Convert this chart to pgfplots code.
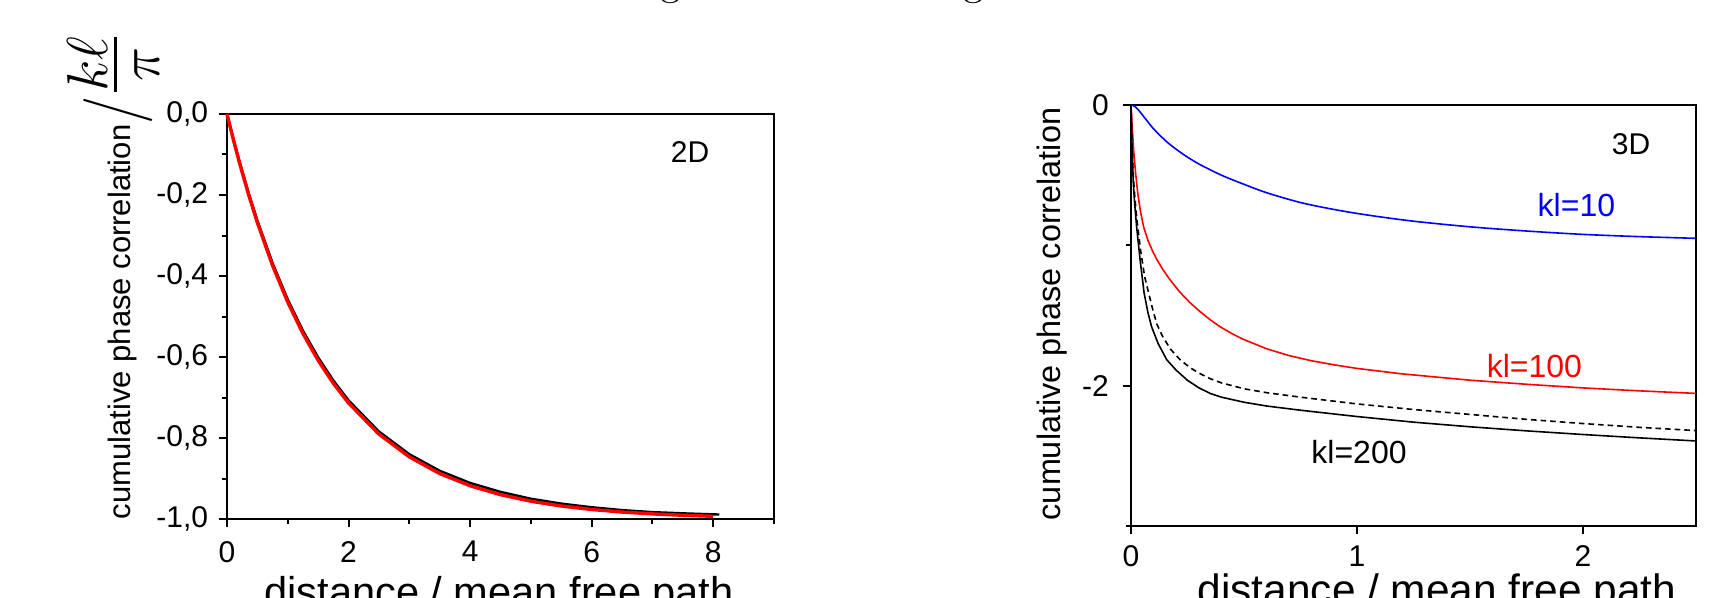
\documentclass[border=0pt]{standalone}
\usepackage{fontspec}
\setsansfont{Liberation Sans}
\renewcommand{\familydefault}{\sfdefault}
\usepackage{graphicx}
\usepackage{pgfplots}
\pgfplotsset{compat=1.18}
\definecolor{pblue}{RGB}{0,0,255}
\definecolor{pred}{RGB}{255,0,0}
\begin{document}
\begin{tikzpicture}
\pgfplotsset{
  every axis/.append style={
    scale only axis,
    tick align=outside,
    xtick pos=left, ytick pos=left,
    major tick length=2pt, minor tick length=1.25pt,
    tick style={black, line width=0.5pt},
    axis line style={line width=0.5pt},
    clip=false,
    tick label style={font=\fontsize{7.5}{8}\selectfont},
  }
}
% ---------------- 2D ----------------
\begin{axis}[
  at={(56.75pt,-129.75pt)}, anchor=south west,
  width=136.75pt, height=101.25pt,
  xmin=0, xmax=9, ymin=-1, ymax=0,
  xtick={0,2,4,6,8}, xticklabels={0,2,4,6,8},
  minor xtick={1,3,5,7,9},
  ytick={-1,-0.8,-0.6,-0.4,-0.2,0},
  yticklabels={{-1,0},{-0,8},{-0,6},{-0,4},{-0,2},{0,0}},
  minor ytick={-0.9,-0.7,-0.5,-0.3,-0.1},
  yticklabel style={xshift=0.8pt},
]
\addplot[black, line width=0.6pt] coordinates {
(0,0) (0.1,-0.058) (0.2,-0.114) (0.35,-0.192) (0.5,-0.263) (0.75,-0.368)
(1.0,-0.458) (1.25,-0.535) (1.5,-0.601) (1.75,-0.658) (2.0,-0.707)
(2.5,-0.784) (3.0,-0.840) (3.5,-0.881) (4.0,-0.911) (4.5,-0.933)
(5.0,-0.950) (5.5,-0.962) (6.0,-0.971) (6.5,-0.978) (7.0,-0.983)
(7.5,-0.986) (8.1,-0.989)};
\addplot[pred, line width=0.85pt] coordinates {
(0,0) (0.1,-0.0606) (0.2,-0.1175) (0.35,-0.1965) (0.5,-0.2684) (0.75,-0.3742)
(1.0,-0.4647) (1.25,-0.5422) (1.5,-0.6084) (1.75,-0.6650) (2.0,-0.7135)
(2.5,-0.7904) (3.0,-0.8466) (3.5,-0.8878) (4.0,-0.9179) (4.5,-0.9399)
(5.0,-0.9561) (5.5,-0.9679) (6.0,-0.9765) (6.5,-0.9828) (7.0,-0.9874)
(7.5,-0.9908) (8.0,-0.9933)};
\end{axis}
% ---------------- 3D ----------------
\begin{axis}[
  at={(282.75pt,-131.5pt)}, anchor=south west,
  width=141.25pt, height=105.25pt,
  xmin=0, xmax=2.5, ymin=-3, ymax=0,
  xtick={0,1,2}, xticklabels={0,1,2},
  ytick={-2,0}, yticklabels={-2,0},
  minor ytick={-3,-1},
  xticklabel style={yshift=0.6pt},
]
\addplot[pblue, line width=0.4pt, smooth] coordinates {
(0,0) (0.012,-0.006) (0.03,-0.03) (0.06,-0.09) (0.1,-0.17) (0.16,-0.265)
(0.23,-0.35) (0.3,-0.42) (0.4,-0.5) (0.5,-0.565) (0.6,-0.625) (0.75,-0.695)
(0.9,-0.745) (1.05,-0.785) (1.25,-0.828) (1.5,-0.868) (1.75,-0.898) (2.0,-0.922)
(2.25,-0.938) (2.5,-0.95)};
\addplot[pred, line width=0.4pt] coordinates {
(0,0) (0.005,-0.15) (0.012,-0.33) (0.02,-0.48) (0.03,-0.63) (0.042,-0.76)
(0.056,-0.87) (0.075,-0.965) (0.095,-1.04) (0.114,-1.10) (0.14,-1.17)
(0.17,-1.24) (0.217,-1.335) (0.26,-1.407) (0.3,-1.465) (0.35,-1.53)
(0.394,-1.58) (0.45,-1.632) (0.5,-1.672) (0.6,-1.737) (0.7,-1.786)
(0.8,-1.823) (0.9,-1.852) (1.0,-1.877) (1.2,-1.916) (1.5,-1.961)
(1.75,-1.99) (2.0,-2.016) (2.25,-2.037) (2.5,-2.055)};
\addplot[black, line width=0.4pt, dash pattern=on 1.4pt off 1pt] coordinates {
(0,0) (0.002,-0.13) (0.005,-0.3) (0.01,-0.5) (0.017,-0.66) (0.027,-0.83)
(0.042,-1.03) (0.06,-1.22) (0.078,-1.34) (0.095,-1.45) (0.114,-1.56)
(0.14,-1.65) (0.175,-1.74) (0.217,-1.815) (0.26,-1.87) (0.3,-1.91)
(0.35,-1.95) (0.4,-1.98) (0.5,-2.022) (0.6,-2.05) (0.75,-2.082)
(1.0,-2.13) (1.25,-2.17) (1.5,-2.205) (1.75,-2.24) (2.0,-2.27)
(2.25,-2.297) (2.5,-2.32)};
\addplot[black, line width=0.4pt] coordinates {
(0,0) (0.002,-0.15) (0.005,-0.33) (0.01,-0.55) (0.016,-0.7) (0.025,-0.87)
(0.04,-1.10) (0.058,-1.34) (0.075,-1.48) (0.091,-1.58) (0.12,-1.70)
(0.158,-1.815) (0.2,-1.89) (0.25,-1.962) (0.3,-2.015) (0.35,-2.055)
(0.4,-2.082) (0.5,-2.118) (0.6,-2.145) (0.75,-2.175) (1.0,-2.22)
(1.25,-2.26) (1.5,-2.293) (1.75,-2.322) (2.0,-2.348) (2.25,-2.372)
(2.5,-2.394)};
\end{axis}
% ---------------- labels ----------------
\node[rotate=90, anchor=base west, inner sep=0pt] at (32.5pt,-130pt)
  {\fontsize{7.75}{9}\selectfont cumulative phase correlation%
   \fontsize{13.3}{16}\selectfont\raisebox{-1.5pt}{\scalebox{1}[1.2]{$/$}}%
   ${{\textstyle k\ell}\above0.9pt{\textstyle\raisebox{-0.18em}{$\pi$}}}$};
\node[rotate=90, anchor=base, inner sep=0pt] at (265pt,-78.5pt)
  {\fontsize{8.1}{10}\selectfont cumulative phase correlation};
\node[anchor=base, inner sep=0pt] at (124.75pt,-151.5pt)
  {\fontsize{10.4}{12}\selectfont distance / mean free path};
\node[anchor=base, inner sep=0pt] at (359.25pt,-151pt)
  {\fontsize{10.6}{12}\selectfont distance / mean free path};
\node[inner sep=0pt] at (172.5pt,-38pt) {\fontsize{7.5}{9}\selectfont 2D};
\node[inner sep=0pt] at (407.75pt,-36pt) {\fontsize{7.5}{9}\selectfont 3D};
\node[inner sep=0pt, text=pblue] at (394.1pt,-51.25pt) {\fontsize{8}{9}\selectfont kl=10};
\node[inner sep=0pt, text=pred] at (383.6pt,-91.5pt) {\fontsize{8}{9}\selectfont kl=100};
\node[inner sep=0pt] at (339.75pt,-112.9pt) {\fontsize{8}{9}\selectfont kl=200};
\node[anchor=base, inner sep=0pt] at (167.5pt,1.2pt) {\rmfamily\fontsize{10}{12}\selectfont g};
\node[anchor=base, inner sep=0pt] at (243.25pt,1.2pt) {\rmfamily\fontsize{10}{12}\selectfont g};
\pgfresetboundingbox
\path[use as bounding box] (0,0) rectangle (431pt,-149.5pt);
\end{tikzpicture}
\end{document}
